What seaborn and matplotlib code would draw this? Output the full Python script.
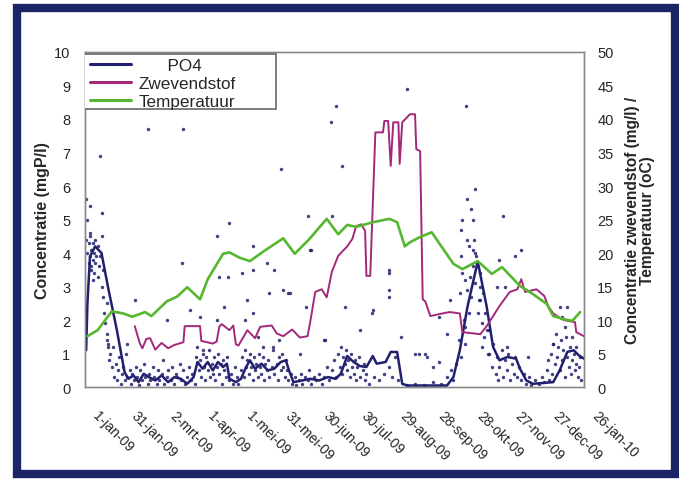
import numpy as np
import pandas as pd
import matplotlib
matplotlib.use("Agg")
import matplotlib.pyplot as plt
import seaborn as sns
from matplotlib.patches import Rectangle
from matplotlib.lines import Line2D
from matplotlib.transforms import ScaledTranslation

# dagen na 1-jan-09
po4_dag = [1, 2, 4, 8, 13, 18, 25, 31, 34, 38, 42, 46, 50, 55, 60, 65, 70, 75, 80, 85,
           88, 92, 96, 100, 104, 108, 111, 113, 118, 122, 126, 129, 133, 138, 143, 148,
           153, 157, 160, 163, 170, 176, 183, 190, 196, 200, 205, 210, 215, 220, 225,
           228, 235, 239, 244, 248, 252, 283, 288, 293, 299, 307, 314, 319, 324, 330,
           337, 340, 345, 350, 366, 371, 377, 382, 386, 390]
po4_waarde = [1.1, 2.5, 3.9, 4.2, 4.0, 3.0, 1.7, 0.45, 0.25, 0.35, 0.15, 0.4, 0.3, 0.2,
              0.35, 0.15, 0.3, 0.25, 0.1, 0.3, 0.75, 0.55, 0.75, 0.5, 0.75, 0.6, 0.7,
              0.25, 0.15, 0.25, 0.6, 0.8, 0.55, 0.7, 0.5, 0.55, 0.75, 0.8, 0.45, 0.15,
              0.2, 0.25, 0.2, 0.3, 0.25, 0.4, 0.93, 0.75, 0.63, 0.6, 0.93, 0.7, 0.75,
              1.05, 1.05, 0.1, 0.05, 0.05, 0.3, 1.1, 2.4, 3.75, 2.4, 1.2, 0.8, 0.9,
              0.85, 0.55, 0.2, 0.1, 0.15, 0.5, 1.05, 1.1, 0.95, 0.85]

zwev_dag = [39, 43, 45, 48, 51, 55, 60, 65, 70, 77, 78, 90, 91, 100, 103, 105, 107, 113,
            116, 118, 120, 127, 133, 137, 146, 150, 155, 162, 168, 174, 176, 180, 185,
            189, 193, 198, 205, 209, 212, 216, 219, 220, 223, 227, 233, 234, 237, 239,
            241, 245, 246, 248, 254, 258, 259, 262, 264, 266, 270, 277, 285, 293, 295,
            309, 314, 324, 332, 338, 341, 344, 353, 359, 362, 366, 373, 377, 383, 384, 390]
zwev_waarde = [9.1, 6.5, 5.8, 7.2, 7.3, 5.6, 6.6, 5.8, 6.3, 6.7, 9.1, 9.1, 6.9, 6.5, 6.8,
               9.0, 9.4, 8.5, 9.2, 6.4, 6.2, 8.5, 7.3, 9.0, 9.2, 8.0, 7.6, 8.6, 7.4, 7.6,
               9.6, 14.2, 14.6, 13.4, 17.2, 19.6, 21.0, 22.1, 24.0, 24.3, 23.3, 16.6,
               16.6, 38.0, 38.0, 39.7, 39.7, 33.0, 39.5, 39.5, 33.3, 39.5, 40.7, 40.7,
               35.5, 35.2, 13.1, 12.8, 10.6, 10.9, 11.2, 11.0, 8.2, 7.9, 9.1, 12.1, 14.2,
               14.6, 16.1, 14.2, 14.6, 13.6, 12.1, 11.0, 10.1, 9.9, 9.7, 8.2, 7.6]

temp_dag = [2, 10, 21, 30, 37, 47, 52, 64, 72, 80, 90, 96, 108, 113, 121, 129, 140, 155,
            164, 175, 189, 198, 205, 212, 225, 238, 244, 250, 254, 262, 271, 288, 295,
            307, 318, 326, 340, 350, 361, 366, 375, 381, 387]
temp_waarde = [7.6, 8.5, 11.3, 11.0, 10.5, 11.2, 10.6, 12.8, 13.5, 14.9, 13.1, 16.1, 19.9,
               20.1, 19.3, 18.8, 20.3, 22.2, 19.9, 22.0, 25.1, 22.8, 24.2, 23.9, 24.6,
               25.1, 24.6, 21.0, 21.6, 22.4, 23.1, 18.4, 17.6, 18.8, 16.9, 17.9, 15.1,
               13.9, 12.4, 10.6, 10.1, 9.9, 11.2]

# losse PO4-metingen (punten)
meting_dag = [1, 2, 3, 3, 4, 5, 5, 6, 6, 7, 7, 8, 8, 9, 10, 10, 11, 12, 13, 14, 2, 1, 4,
              15, 16, 17, 18, 19, 20, 21, 22, 23, 24, 25, 26, 27, 28, 29, 30, 31, 32, 33, 35,
              36, 37, 38, 40, 41, 42, 43, 45, 46, 47, 49, 50, 51, 53, 54, 56, 57, 58, 60, 61,
              62, 64, 65, 67, 68, 70, 71, 72, 74, 75, 77, 78, 80, 81, 83, 84, 86, 87, 88, 89,
              90, 91, 92, 93, 94, 95, 96, 97, 98, 99, 100, 101, 102, 103, 104, 105, 106, 107,
              108, 109, 110, 111, 113, 114, 116, 117, 119, 120, 122, 123, 124, 125, 126, 127,
              128, 129, 130, 131, 132, 133, 134, 135, 136, 137, 138, 139, 140, 141, 142, 143,
              144, 146, 147, 148, 150, 151, 152, 153, 154, 155, 156, 157, 158, 159, 161, 162,
              164, 165, 167, 169, 170, 172, 174, 175, 177, 179,
              181, 183, 185, 187, 189, 191, 193, 195, 196, 198, 199, 200, 201, 202, 203, 204,
              205, 206, 207, 208, 209, 210, 211, 212, 213, 214, 215, 217, 218, 219, 220, 222,
              226, 230, 234, 238, 240, 242, 245,
              252, 258, 265, 272, 278, 283, 286, 288, 290,
              292, 294, 296, 297, 299, 300, 301, 302, 303, 304, 305, 306, 308, 309, 310, 311,
              312, 313, 315, 316, 318, 319, 321, 322,
              323, 324, 326, 327, 328, 330, 331, 332, 334, 335, 336, 338, 339, 341, 343, 345,
              347, 349, 352, 355,
              357, 359, 361, 362, 363, 364, 365, 366, 367, 368, 369, 370, 371, 372, 373, 374,
              375, 376, 377, 378, 379, 380, 381, 382, 383, 384, 385, 386, 387, 388,
              12, 49, 77, 153, 196, 192, 4, 13, 113, 174, 4, 13, 103, 252, 298, 201, 305,
              299, 302, 303, 295, 327, 294, 299, 300, 303, 305, 294, 341, 336, 324, 295, 297,
              309, 322, 328, 293, 309, 285, 371, 377, 373, 277, 307, 375, 283, 297, 314, 310,
              316, 330, 346, 266, 277, 272, 366, 381, 384,
              76, 39, 82, 105, 112, 127, 123, 131, 142, 148, 144, 155, 159, 176, 173, 64, 90,
              103, 125, 131, 109, 135, 92, 139, 147, 152, 168, 188, 33, 17, 18, 14, 17, 6, 5,
              131, 177, 238, 238, 160, 238, 238, 203, 225, 224, 215, 187, 247, 258, 261, 267,
              193]
meting_waarde = [4.4, 4.0, 3.7, 4.3, 3.9, 4.1, 3.6, 4.3, 3.8, 4.0, 3.4, 4.4, 3.7, 3.9, 4.2,
                 3.3, 3.6, 3.9, 3.0, 3.5, 5.0, 5.6, 4.6,
                 2.2, 1.9, 1.6, 1.3, 0.8, 1.0, 0.6, 1.2, 0.3, 0.7, 0.2, 0.5, 0.9, 0.1, 0.4,
                 0.6, 0.2, 1.0, 0.3, 0.5,
                 0.1, 0.4, 0.2, 0.6, 0.3, 0.05, 0.5, 0.2, 0.7, 0.3, 0.1, 0.4, 0.2, 0.6, 0.3,
                 0.1, 0.5, 0.2, 0.4, 0.8, 0.1, 0.3, 0.5, 0.2, 0.6, 0.1, 0.4, 0.3, 0.7, 0.2,
                 0.5, 0.1, 0.3, 0.6, 0.2, 0.4, 0.1, 0.9, 1.2, 0.5,
                 0.8, 0.3, 1.0, 0.6, 0.2, 0.9, 0.5, 1.1, 0.3, 0.7, 0.4, 0.9, 0.2, 0.6, 1.0,
                 0.4, 0.7, 0.1, 0.8, 0.5, 0.3, 0.9, 0.2, 0.4, 0.1, 0.6, 0.3, 0.1, 0.5, 0.9,
                 0.3, 1.1, 0.6, 0.8, 0.4, 1.0, 0.6, 0.2, 0.9, 0.5, 0.7, 0.3, 1.0, 0.6, 0.4,
                 0.9, 0.2, 0.7, 0.5, 0.8, 0.3, 0.6, 1.1, 0.4, 0.7, 0.2, 0.9, 0.5, 1.0, 0.6,
                 0.3, 0.8, 0.5, 0.2, 0.4, 0.1, 0.3, 0.05, 0.2, 0.4, 0.1, 0.3, 0.2, 0.5, 0.1,
                 0.3,
                 0.2, 0.4, 0.1, 0.3, 0.6, 0.2, 0.5, 0.8, 0.3, 1.0, 0.6, 1.2, 0.4, 0.9, 0.7,
                 1.1, 0.5, 0.8, 0.3, 1.0, 0.6, 0.4, 0.8, 0.2, 0.6, 0.9, 0.3, 0.5, 0.7, 0.2,
                 0.4, 0.1, 0.3, 0.2, 0.4, 0.6, 0.3, 0.9, 0.2,
                 0.05, 0.1, 0.05, 0.15, 0.1, 0.3, 0.5, 0.2, 0.7,
                 1.4, 0.9, 2.0, 1.3, 2.9, 2.2, 3.3, 2.7, 3.6, 4.4, 3.1, 3.9, 2.6, 3.4, 1.9,
                 2.8, 1.5, 2.2, 1.0, 1.7, 0.6, 1.3, 0.4, 0.9,
                 0.2, 0.6, 1.1, 0.3, 0.8, 0.5, 1.0, 0.2, 0.7, 0.4, 0.9, 0.3, 0.6, 0.2, 0.4,
                 0.1, 0.3, 0.05, 0.2, 0.1,
                 0.3, 0.15, 0.5, 0.8, 0.2, 1.0, 0.4, 1.3, 0.7, 1.6, 0.9, 1.2, 0.5, 1.4, 0.8,
                 1.1, 0.3, 1.5, 0.9, 0.6, 1.2, 0.4, 0.8, 1.0, 0.5, 0.7, 0.3, 0.6, 0.9, 0.2,
                 6.9, 7.7, 7.7, 6.5, 8.4, 7.9, 5.4, 5.2, 4.9, 5.1, 4.5, 4.5, 4.5, 8.9, 8.4,
                 6.6, 5.9, 5.6, 5.3, 5.0, 5.0, 5.1, 4.7, 4.4, 4.2, 4.1, 4.0, 3.9, 4.1, 3.9,
                 3.8, 3.4, 3.2, 3.0, 3.0, 3.0, 2.8, 2.6, 2.6, 2.4, 2.4, 2.1, 2.1, 2.2, 1.8,
                 1.6, 1.8, 1.7, 1.2, 1.0, 1.2, 0.9, 1.0, 0.75, 0.6, 1.3, 1.5, 1.2,
                 3.7, 2.6, 2.3, 3.3, 3.3, 2.6, 3.4, 3.5, 3.7, 3.5, 2.8, 2.9, 2.8, 4.1, 2.4,
                 2.0, 2.1, 2.0, 2.0, 2.2, 2.4, 1.5, 1.1, 1.2, 1.2, 1.4, 1.0, 1.4, 1.3, 1.4,
                 1.2, 2.7, 2.5, 3.2, 3.5,
                 4.2, 4.1, 3.5, 3.4, 2.8, 2.9, 2.7, 2.4, 2.3, 2.2, 1.7, 1.4, 1.5, 1.0, 1.0,
                 0.9, 5.1]

tick_labels = ["1-jan-09", "31-jan-09", "2-mrt-09", "1-apr-09", "1-mei-09", "31-mei-09",
               "30-jun-09", "30-jul-09", "29-aug-09", "28-sep-09", "28-okt-09",
               "27-nov-09", "27-dec-09", "26-jan-10"]
legend_labels = ["      PO4", "Zwevendstof", "Temperatuur"]

start = pd.Timestamp("2009-01-01")


def to_dates(days):
    return start + pd.to_timedelta(days, unit="D")


po4_df = pd.DataFrame({"datum": to_dates(po4_dag), "waarde": po4_waarde})
zwev_df = pd.DataFrame({"datum": to_dates(zwev_dag), "waarde": zwev_waarde})
temp_df = pd.DataFrame({"datum": to_dates(temp_dag), "waarde": temp_waarde})
meting_df = pd.DataFrame({"datum": to_dates(meting_dag), "waarde": meting_waarde})

sns.set_style("white")
plt.rcParams["font.family"] = ["Liberation Sans", "DejaVu Sans"]

c_po4 = "#20206e"
c_zwev = "#a3287c"
c_temp = "#55b82e"

fig = plt.figure(figsize=(6.79, 4.81), dpi=100)
ax = fig.add_axes([0.125, 0.193, 0.735, 0.697])
ax2 = ax.twinx()

sns.scatterplot(data=meting_df, x="datum", y="waarde", ax=ax, color=c_po4, s=6,
                linewidth=0, alpha=0.85, legend=False, zorder=2)
sns.lineplot(data=po4_df, x="datum", y="waarde", ax=ax, color=c_po4, lw=1.8,
             estimator=None, sort=False, zorder=3)
sns.lineplot(data=zwev_df, x="datum", y="waarde", ax=ax2, color=c_zwev, lw=1.4,
             estimator=None, sort=False)
sns.lineplot(data=temp_df, x="datum", y="waarde", ax=ax2, color=c_temp, lw=1.9,
             estimator=None, sort=False)

ax.set_xlim(start, start + pd.Timedelta(days=390))
ax.set_ylim(0, 10)
ax2.set_ylim(0, 50)
ax.set_yticks(range(0, 11))
ax2.set_yticks(range(0, 51, 5))

ticks = [start + pd.Timedelta(days=30 * i) for i in range(len(tick_labels))]
ax.set_xticks(ticks)
ax.set_xticklabels(tick_labels, rotation=-45, ha="left", va="center",
                   rotation_mode="anchor", fontsize=10)
ax.tick_params(axis="x", pad=0, length=0)
shift = ScaledTranslation(0.1, -0.26, fig.dpi_scale_trans)
for lab in ax.get_xticklabels():
    lab.set_transform(lab.get_transform() + shift)
ax.tick_params(axis="y", labelsize=10.5, length=0, pad=10.5)
ax2.tick_params(axis="y", labelsize=10.5, length=0, pad=9.5)

ax.set_xlabel("")
ax.set_ylabel("Concentratie (mgP/l)", fontsize=11.5, fontweight="bold", labelpad=3)
ax2.set_ylabel("Concentratie zwevendstof (mg/l) /\nTemperatuur (oC)", fontsize=11.2,
               fontweight="bold", labelpad=8, linespacing=1.0)

for a in (ax, ax2):
    for sp in a.spines.values():
        sp.set_color("#8a8a8a")
        sp.set_linewidth(1.0)

handles = [Line2D([], [], color=c_po4, lw=2.2),
           Line2D([], [], color=c_zwev, lw=2.2),
           Line2D([], [], color=c_temp, lw=2.2)]
leg = ax2.legend(handles, legend_labels, loc="upper left",
                 bbox_to_anchor=(0.005, 0.99), fontsize=12.3, frameon=False,
                 handlelength=2.4, labelspacing=0.18, borderpad=0.05,
                 handletextpad=0.45, borderaxespad=0.1)
# kader van de legenda, zoals in Excel breder dan de tekst
ax2.add_patch(Rectangle((-0.004, 0.83), 0.387, 0.164, transform=ax2.transAxes,
                        fill=True, fc="white", ec="#666666", lw=1.2, zorder=4))
leg.set_zorder(5)

# donkerblauwe rand rond de figuur
fig.patches.append(Rectangle((0.025, 0.0125), 0.969, 0.9685, transform=fig.transFigure,
                             fill=False, lw=6, ec="#1c2468"))

fig.savefig("out.png", dpi=100)
